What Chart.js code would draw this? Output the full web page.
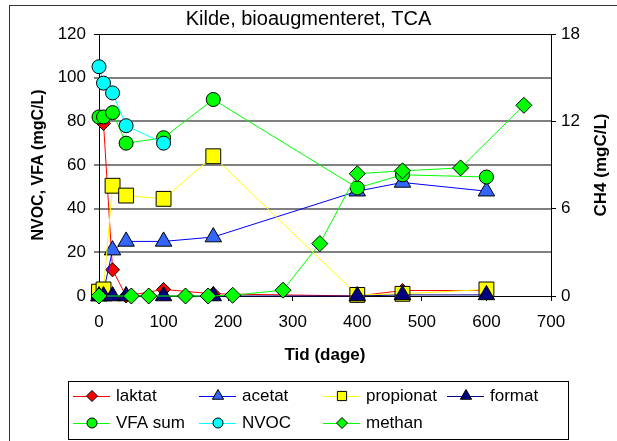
<!DOCTYPE html>
<html lang="da">
<head>
<meta charset="UTF-8">
<title>Kilde, bioaugmenteret, TCA</title>
<script src="https://cdn.jsdelivr.net/npm/chart.js"></script>
<style>
  html, body { margin: 0; padding: 0; background: #fff; }
  #wrap { width: 617px; height: 441px; }
</style>
</head>
<body>
<div id="wrap"><canvas id="kildeChart" width="617" height="441"></canvas></div>
<script>
// sampling days
const days = [0, 7, 21, 42, 100, 177, 400, 470, 600];
const nvocDays = [0, 7, 21, 42, 100];
const methanDays = [0, 50, 77, 134, 169, 207, 285, 342, 400, 470, 560, 658];

// mgC/L, left axis
const laktat    = [null, 79, 12, 0, 3, 1, 0, 2.5, 2.5];
const acetat    = [0, 2, 21, 25, 25, 27, 48, 52, 48];
const propionat = [2, 3, 50.5, 46, 44.5, 64, 0.5, 1, 3];
const format    = [0, 0, 0, 0, 0, 0, 0, 0.5, 0.5];
const vfaSum    = [82, 82, 84, 70, 72.5, 90, 49.5, 55.5, 54.5];
const nvoc      = [105, 97.5, 93, 78, 70];

// CH4 mgC/L, right axis
const methan    = [0, 0, 0, 0, 0, 0.05, 0.4, 3.6, 8.4, 8.6, 8.8, 13.1];

const xTicks = [0, 100, 200, 300, 400, 500, 600, 700];
const leftTicks = [0, 20, 40, 60, 80, 100, 120];
const rightTicks = [0, 6, 12, 18];

const FONT = "'Liberation Sans', Arial, sans-serif";
Chart.defaults.font.family = FONT;
Chart.defaults.color = '#000';

function pairs(xs, ys) {
    return xs.map((d, i) => ({ x: d, y: ys[i] }));
}

function series(label, xs, ys, line, fill, style, r, axis, order) {
    return {
        label: label,
        data: pairs(xs, ys),
        borderColor: line,
        backgroundColor: fill,
        borderWidth: 1,
        pointStyle: style,
        pointRadius: r,
        pointBackgroundColor: fill,
        pointBorderColor: '#000',
        pointBorderWidth: 1,
        yAxisID: axis,
        order: order,
        clip: false,
        tension: 0
    };
}

const datasets = [
    series('laktat', days, laktat, '#ff0000', '#ff0000', 'rectRot', 7, 'y', 7),
    series('acetat', days, acetat, '#0000ff', '#3366ff', 'triangle', 9.5, 'y', 6),
    series('propionat', days, propionat, '#ffff00', '#ffff00', 'rect', 10.5, 'y', 5),
    series('format', days, format, '#000080', '#000080', 'triangle', 9.5, 'y', 4),
    series('VFA sum', days, vfaSum, '#00ff00', '#00ff00', 'circle', 7, 'y', 3),
    series('NVOC', nvocDays, nvoc, '#00ffff', '#00ffff', 'circle', 7, 'y', 2),
    series('methan', methanDays, methan, '#00ff00', '#00ff00', 'rectRot', 8, 'y2', 1)
];

// legend slots (Excel style: line + marker + text)
const legendRows = [[0, 1, 2, 3], [4, 5, 6]];
const legendCols = [73, 199, 323, 447];
const legendY = [396, 423];
const legendR = { rectRot: 5.5, triangle: 6.5, rect: 6.5, circle: 5 };

function marker(ctx, style, r, x, y) {
    if (Chart.helpers && Chart.helpers.drawPoint) {
        Chart.helpers.drawPoint(ctx, { pointStyle: style, radius: r, rotation: 0, borderWidth: 1 }, x, y);
    } else {
        ctx.beginPath();
        ctx.arc(x, y, r, 0, Math.PI * 2);
        ctx.fill();
        ctx.stroke();
    }
}

const frame = {
    id: 'frame',
    beforeDraw(chart) {
        const ctx = chart.ctx;
        ctx.save();
        ctx.fillStyle = '#fff';
        ctx.fillRect(0, 0, chart.width, chart.height);
        ctx.strokeStyle = '#333';
        ctx.lineWidth = 1;
        ctx.strokeRect(9.5, 5.5, 700, 500);
        ctx.restore();
    },
    afterDraw(chart) {
        const ctx = chart.ctx;
        const area = chart.chartArea;
        ctx.save();

        // right axis title, reads bottom to top like the left one
        ctx.translate(601, (area.top + area.bottom) / 2);
        ctx.rotate(-Math.PI / 2);
        ctx.font = 'bold 17px ' + FONT;
        ctx.fillStyle = '#000';
        ctx.textAlign = 'center';
        ctx.textBaseline = 'middle';
        ctx.fillText('CH4 (mgC/L)', 0, 0);
        ctx.setTransform(1, 0, 0, 1, 0, 0);

        // legend box
        ctx.fillStyle = '#fff';
        ctx.fillRect(68.5, 381.5, 500, 58);
        ctx.strokeStyle = '#000';
        ctx.lineWidth = 1;
        ctx.strokeRect(68.5, 381.5, 500, 58);

        legendRows.forEach((row, ri) => {
            const y = legendY[ri];
            row.forEach((di, ci) => {
                const ds = chart.data.datasets[di];
                const x0 = legendCols[ci];
                ctx.strokeStyle = ds.borderColor;
                ctx.lineWidth = 1;
                ctx.beginPath();
                ctx.moveTo(x0, y + 0.5);
                ctx.lineTo(x0 + 37, y + 0.5);
                ctx.stroke();
                ctx.fillStyle = ds.pointBackgroundColor;
                ctx.strokeStyle = '#000';
                marker(ctx, ds.pointStyle, legendR[ds.pointStyle], x0 + 19, y);
                ctx.fillStyle = '#000';
                ctx.font = '17px ' + FONT;
                ctx.textAlign = 'left';
                ctx.textBaseline = 'middle';
                ctx.fillText(ds.label, x0 + 43, y);
            });
        });
        ctx.restore();
    }
};

const ctx = document.getElementById('kildeChart').getContext('2d');
new Chart(ctx, {
    type: 'line',
    data: { datasets: datasets },
    plugins: [frame],
    options: {
        responsive: false,
        animation: false,
        layout: { padding: { left: 0, right: 0, top: 0, bottom: 75 } },
        plugins: {
            legend: { display: false },
            tooltip: { enabled: false },
            title: {
                display: true,
                text: 'Kilde, bioaugmenteret, TCA',
                color: '#000',
                font: { size: 20, weight: 'normal', family: FONT },
                padding: { top: 7, bottom: 3 }
            }
        },
        scales: {
            x: {
                type: 'linear',
                min: 0,
                max: 700,
                afterBuildTicks: s => { s.ticks = xTicks.map(v => ({ value: v })); },
                afterFit: s => { s.height = 70; },
                ticks: { font: { size: 17 }, padding: 11, maxRotation: 0 },
                grid: { drawOnChartArea: false, tickColor: '#000', tickLength: 5 },
                border: { color: '#000', width: 1 },
                title: {
                    display: true,
                    text: 'Tid (dage)',
                    font: { size: 17, weight: 'bold' },
                    padding: { top: 0, bottom: 0 }
                }
            },
            y: {
                position: 'left',
                min: 0,
                max: 120,
                afterBuildTicks: s => { s.ticks = leftTicks.map(v => ({ value: v })); },
                afterFit: s => { s.width = 99; },
                ticks: { font: { size: 17 }, padding: 8 },
                grid: {
                    color: c => (c.tick && (c.tick.value === 120 || c.tick.value === 0)) ? '#000' : '#808080',
                    lineWidth: c => (c.tick && (c.tick.value === 120 || c.tick.value === 0)) ? 1 : 2,
                    tickColor: '#000',
                    tickWidth: 1,
                    tickLength: 5
                },
                border: { color: '#000', width: 1 },
                title: {
                    display: true,
                    text: 'NVOC, VFA (mgC/L)',
                    font: { size: 16, weight: 'bold' },
                    padding: { top: 29, bottom: 0 }
                }
            },
            y2: {
                position: 'right',
                min: 0,
                max: 18,
                afterBuildTicks: s => { s.ticks = rightTicks.map(v => ({ value: v })); },
                afterFit: s => { s.width = 66; },
                ticks: { font: { size: 17 }, padding: 5 },
                grid: { drawOnChartArea: false, tickColor: '#000', tickWidth: 1, tickLength: 5 },
                border: { color: '#000', width: 1 }
            }
        }
    }
});
</script>
</body>
</html>
